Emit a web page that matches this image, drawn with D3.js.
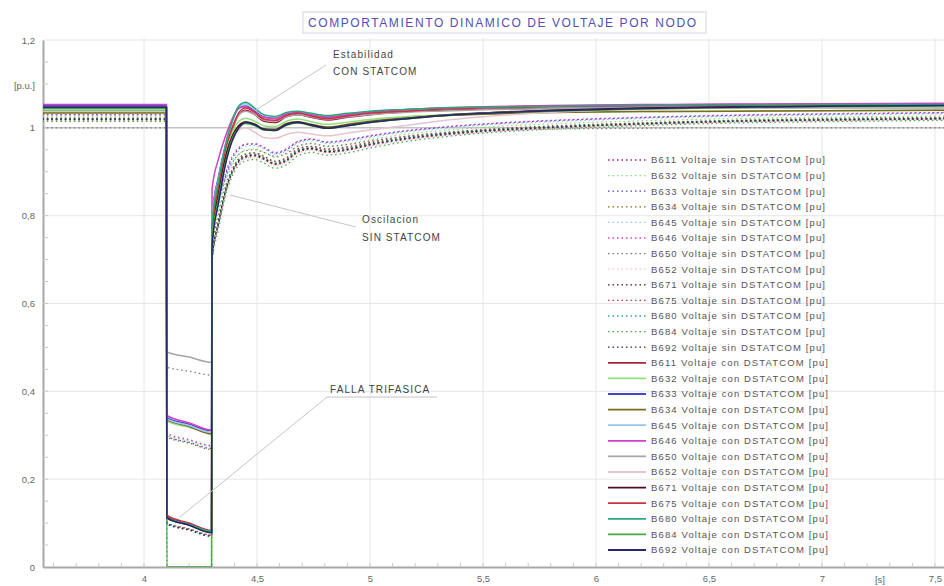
<!DOCTYPE html>
<html><head><meta charset="utf-8">
<script src="https://cdn.jsdelivr.net/npm/d3@7"></script>
<style>
html,body{margin:0;padding:0;background:#fff;}
svg{display:block;font-family:"Liberation Sans",Arial,sans-serif;}
</style></head>
<body>
<svg id="chart" width="944" height="586"></svg>
<script>
// ---------- DATA ----------
const titleText = "COMPORTAMIENTO DINAMICO  DE VOLTAJE POR NODO";
const times = [3.55, 4.099, 4.101, 4.2, 4.299, 4.301, 4.33, 4.36, 4.39, 4.42, 4.45, 4.49, 4.53, 4.58, 4.63, 4.68, 4.74, 4.81, 4.9, 5.0, 5.15, 5.3, 5.5, 5.8, 6.2, 6.6, 7.0, 7.54];
const xTicks = [4, 4.5, 5, 5.5, 6, 6.5, 7, 7.5];
const yTicks = [0, 0.2, 0.4, 0.6, 0.8, 1, 1.2];
const buses = ["B611","B632","B633","B634","B645","B646","B650","B652","B671","B675","B680","B684","B692"];
const busColors = ["#a8243e","#8ee07a","#4646c8","#7c6a1e","#92c8ee","#d23fc8","#a6a6a6","#e6c4d0","#4e0f22","#cc3244","#2fa67a","#45a845","#26286a"];

// Voltaje sin DSTATCOM [pu]
const sin611 = [1.02, 1.02, 0.1, 0.086, 0.072, 0.71, 0.79, 0.86, 0.905, 0.93, 0.94, 0.943, 0.935, 0.924, 0.932, 0.952, 0.958, 0.952, 0.957, 0.967, 0.98, 0.988, 0.996, 1.004, 1.011, 1.016, 1.019, 1.022];
const sin632 = [1.025, 1.025, 0.3, 0.287, 0.274, 0.73, 0.81, 0.875, 0.915, 0.94, 0.95, 0.952, 0.945, 0.933, 0.94, 0.958, 0.965, 0.958, 0.963, 0.973, 0.985, 0.993, 1.001, 1.009, 1.016, 1.021, 1.024, 1.027];
const sin633 = [1.03, 1.03, 0.298, 0.284, 0.27, 0.75, 0.83, 0.89, 0.93, 0.952, 0.962, 0.963, 0.955, 0.942, 0.95, 0.968, 0.974, 0.967, 0.972, 0.981, 0.992, 1.0, 1.008, 1.016, 1.023, 1.028, 1.031, 1.034];
const sin634 = [1.022, 1.022, 0.296, 0.282, 0.268, 0.72, 0.8, 0.865, 0.905, 0.93, 0.94, 0.943, 0.935, 0.923, 0.93, 0.95, 0.957, 0.95, 0.955, 0.965, 0.978, 0.986, 0.995, 1.003, 1.011, 1.017, 1.021, 1.024];
const sin645 = [1.028, 1.028, 0.302, 0.288, 0.276, 0.74, 0.82, 0.885, 0.925, 0.948, 0.958, 0.96, 0.952, 0.94, 0.947, 0.965, 0.971, 0.964, 0.969, 0.978, 0.99, 0.998, 1.006, 1.014, 1.021, 1.026, 1.029, 1.032];
const sin646 = [1.03, 1.03, 0.305, 0.29, 0.277, 0.76, 0.835, 0.895, 0.935, 0.955, 0.963, 0.964, 0.956, 0.944, 0.952, 0.969, 0.975, 0.968, 0.973, 0.982, 0.993, 1.001, 1.009, 1.017, 1.024, 1.029, 1.032, 1.035];
const sin650 = [1.0, 1.0, 0.455, 0.446, 0.437, 0.76, 0.83, 0.885, 0.92, 0.94, 0.948, 0.95, 0.944, 0.935, 0.942, 0.958, 0.964, 0.958, 0.962, 0.97, 0.98, 0.987, 0.993, 0.997, 0.999, 1.0, 1.0, 1.0];
const sin652 = [1.018, 1.018, 0.097, 0.084, 0.07, 0.7, 0.78, 0.85, 0.895, 0.92, 0.93, 0.933, 0.926, 0.915, 0.922, 0.942, 0.949, 0.943, 0.948, 0.958, 0.972, 0.981, 0.99, 0.999, 1.007, 1.013, 1.016, 1.019];
const sin671 = [1.02, 1.02, 0.099, 0.085, 0.071, 0.7, 0.785, 0.855, 0.9, 0.925, 0.935, 0.938, 0.93, 0.918, 0.926, 0.946, 0.953, 0.946, 0.951, 0.962, 0.975, 0.984, 0.993, 1.001, 1.009, 1.015, 1.018, 1.021];
const sin675 = [1.018, 1.018, 0.101, 0.087, 0.073, 0.7, 0.78, 0.852, 0.897, 0.922, 0.932, 0.935, 0.928, 0.916, 0.924, 0.944, 0.951, 0.944, 0.949, 0.96, 0.973, 0.982, 0.991, 1.0, 1.008, 1.014, 1.017, 1.02];
const sin680 = [1.02, 1.02, 0.1, 0.086, 0.072, 0.71, 0.79, 0.858, 0.902, 0.927, 0.937, 0.94, 0.932, 0.92, 0.928, 0.948, 0.955, 0.948, 0.953, 0.963, 0.976, 0.985, 0.994, 1.002, 1.01, 1.016, 1.019, 1.022];
const sin684 = [1.015, 1.015, 0.0, 0.0, 0.0, 0.69, 0.77, 0.845, 0.89, 0.915, 0.925, 0.928, 0.92, 0.908, 0.916, 0.936, 0.944, 0.938, 0.943, 0.954, 0.968, 0.978, 0.988, 0.997, 1.005, 1.011, 1.014, 1.017];
const sin692 = [1.02, 1.02, 0.098, 0.084, 0.07, 0.7, 0.785, 0.855, 0.9, 0.925, 0.935, 0.938, 0.93, 0.918, 0.926, 0.946, 0.953, 0.946, 0.951, 0.962, 0.975, 0.984, 0.993, 1.001, 1.009, 1.015, 1.018, 1.021];

// Voltaje con DSTATCOM [pu]
const con611 = [1.045, 1.045, 0.115, 0.098, 0.082, 0.76, 0.86, 0.94, 0.995, 1.03, 1.04, 1.03, 1.015, 1.012, 1.025, 1.03, 1.024, 1.018, 1.024, 1.03, 1.036, 1.04, 1.043, 1.046, 1.048, 1.05, 1.051, 1.052];
const con632 = [1.036, 1.036, 0.332, 0.318, 0.305, 0.77, 0.87, 0.945, 0.99, 1.015, 1.022, 1.015, 1.005, 1.003, 1.015, 1.02, 1.014, 1.008, 1.013, 1.019, 1.025, 1.029, 1.032, 1.035, 1.037, 1.038, 1.039, 1.04];
const con633 = [1.051, 1.051, 0.34, 0.325, 0.31, 0.8, 0.89, 0.96, 1.015, 1.045, 1.05, 1.038, 1.025, 1.022, 1.032, 1.036, 1.03, 1.025, 1.03, 1.036, 1.041, 1.044, 1.047, 1.05, 1.052, 1.053, 1.054, 1.055];
const con634 = [1.034, 1.034, 0.336, 0.32, 0.303, 0.76, 0.86, 0.935, 0.98, 1.005, 1.013, 1.008, 0.998, 0.997, 1.01, 1.014, 1.008, 1.002, 1.008, 1.015, 1.022, 1.027, 1.031, 1.035, 1.037, 1.038, 1.039, 1.04];
const con645 = [1.048, 1.048, 0.338, 0.322, 0.307, 0.79, 0.885, 0.96, 1.015, 1.048, 1.055, 1.042, 1.028, 1.024, 1.033, 1.037, 1.032, 1.027, 1.032, 1.037, 1.041, 1.043, 1.045, 1.047, 1.048, 1.049, 1.05, 1.05];
const con646 = [1.053, 1.053, 0.345, 0.328, 0.312, 0.86, 0.93, 0.98, 1.02, 1.045, 1.048, 1.036, 1.024, 1.021, 1.031, 1.035, 1.029, 1.024, 1.03, 1.036, 1.041, 1.045, 1.048, 1.051, 1.053, 1.054, 1.055, 1.056];
const con650 = [1.04, 1.04, 0.49, 0.478, 0.466, 0.8, 0.88, 0.95, 1.0, 1.03, 1.038, 1.03, 1.018, 1.015, 1.025, 1.03, 1.025, 1.02, 1.025, 1.03, 1.035, 1.038, 1.041, 1.043, 1.044, 1.045, 1.045, 1.045];
const con652 = [1.046, 1.046, 0.11, 0.095, 0.08, 0.74, 0.84, 0.92, 0.97, 0.995, 1.0, 0.99, 0.978, 0.976, 0.985, 0.99, 0.986, 0.982, 0.988, 0.995, 1.005, 1.015, 1.025, 1.035, 1.042, 1.046, 1.048, 1.05];
const con671 = [1.047, 1.047, 0.112, 0.096, 0.079, 0.75, 0.85, 0.93, 0.98, 1.005, 1.013, 1.008, 0.997, 0.995, 1.008, 1.013, 1.007, 1.0, 1.006, 1.013, 1.021, 1.028, 1.034, 1.04, 1.045, 1.048, 1.05, 1.052];
const con675 = [1.046, 1.046, 0.118, 0.1, 0.083, 0.77, 0.87, 0.95, 1.0, 1.035, 1.045, 1.035, 1.02, 1.017, 1.028, 1.033, 1.027, 1.021, 1.027, 1.033, 1.038, 1.042, 1.045, 1.048, 1.05, 1.051, 1.052, 1.052];
const con680 = [1.047, 1.047, 0.113, 0.097, 0.081, 0.78, 0.88, 0.96, 1.015, 1.05, 1.058, 1.045, 1.03, 1.026, 1.035, 1.038, 1.033, 1.028, 1.033, 1.038, 1.042, 1.045, 1.047, 1.049, 1.051, 1.052, 1.053, 1.053];
const con684 = [1.044, 1.044, 0.0, 0.0, 0.0, 0.74, 0.84, 0.92, 0.975, 1.0, 1.01, 1.005, 0.995, 0.994, 1.006, 1.011, 1.005, 0.999, 1.005, 1.012, 1.02, 1.027, 1.033, 1.038, 1.043, 1.046, 1.048, 1.05];
const con692 = [1.047, 1.047, 0.112, 0.095, 0.078, 0.73, 0.83, 0.915, 0.97, 1.0, 1.012, 1.007, 0.996, 0.994, 1.007, 1.012, 1.006, 0.999, 1.005, 1.012, 1.02, 1.027, 1.033, 1.039, 1.044, 1.047, 1.049, 1.051];

const sinValues = [sin611, sin632, sin633, sin634, sin645, sin646, sin650, sin652, sin671, sin675, sin680, sin684, sin692];
const conValues = [con611, con632, con633, con634, con645, con646, con650, con652, con671, con675, con680, con684, con692];

// ---------- CHART ----------
(function () {
const svg = d3.select("#chart");
const L = 43, R = 944, T = 38, B = 567;
const x = d3.scaleLinear().domain([3.553, 7.54]).range([L, R]);
const y = d3.scaleLinear().domain([0, 1.2]).range([B, 40]);
const fmt = d => String(d).replace(".", ",");

svg.append("defs").append("clipPath").attr("id", "clip")
  .append("rect").attr("x", L).attr("y", T - 6).attr("width", R - L).attr("height", B - T + 6);

// grid
const grid = svg.append("g");
grid.selectAll(".gx").data(xTicks).join("line")
  .attr("x1", d => x(d)).attr("x2", d => x(d)).attr("y1", T).attr("y2", B)
  .attr("stroke", "#e6e6e6").attr("stroke-width", 1);
grid.selectAll(".gy").data(yTicks.filter(d => d > 0)).join("line")
  .attr("x1", L).attr("x2", R).attr("y1", d => y(d)).attr("y2", d => y(d))
  .attr("stroke", d => d === 1 ? "#a4a4a4" : "#e6e6e6").attr("stroke-width", 1);

// axes
const xAxis = d3.axisBottom(x).tickValues(xTicks).tickSize(0).tickPadding(8).tickFormat(fmt);
const gx = svg.append("g").attr("transform", `translate(0,${B})`).call(xAxis);
gx.select(".domain").attr("stroke", "#a8a8a8").attr("stroke-width", 2);
gx.selectAll("text").attr("fill", "#666").attr("font-size", 9.5);
const yAxis = d3.axisLeft(y).tickValues(yTicks).tickSize(0).tickPadding(8).tickFormat(fmt);
const gy = svg.append("g").attr("transform", `translate(${L},0)`).call(yAxis);
gy.select(".domain").attr("stroke", "#a8a8a8").attr("stroke-width", 2);
gy.selectAll("text").attr("fill", "#666").attr("font-size", 9.5);

// minor ticks
const minorX = d3.range(36, 76).map(d => d / 10);
svg.append("g").selectAll("line").data(minorX).join("line")
  .attr("x1", d => x(d)).attr("x2", d => x(d)).attr("y1", B - 4).attr("y2", B)
  .attr("stroke", "#c8c8c8");
const minorY = d3.range(1, 24).map(d => d * 0.05);
svg.append("g").selectAll("line").data(minorY).join("line")
  .attr("x1", L).attr("x2", L + 5).attr("y1", d => y(d)).attr("y2", d => y(d))
  .attr("stroke", "#c8c8c8");

svg.append("text").attr("x", 35).attr("y", 89).attr("text-anchor", "end")
  .attr("font-size", 9.5).attr("fill", "#666").text("[p.u.]");
svg.append("text").attr("x", 880).attr("y", y(0) + 16).attr("text-anchor", "middle")
  .attr("font-size", 9.5).attr("fill", "#666").text("[s]");

// series
const line = d3.line().x(d => x(d[0])).y(d => y(d[1])).curve(d3.curveMonotoneX);
const plot = svg.append("g").attr("clip-path", "url(#clip)");
sinValues.forEach((vals, i) => {
  plot.append("path").datum(times.map((t, k) => [t, vals[k]]))
    .attr("d", line).attr("fill", "none")
    .attr("stroke", i === 6 ? "#7a7a7a" : busColors[i]).attr("stroke-width", 1.3)
    .attr("stroke-dasharray", "1.5,3");
});
conValues.forEach((vals, i) => {
  plot.append("path").datum(times.map((t, k) => [t, vals[k]]))
    .attr("d", line).attr("fill", "none")
    .attr("stroke", busColors[i]).attr("stroke-width", 1.5);
});

// annotations
const ann = svg.append("g").attr("font-size", 10).attr("fill", "#444").attr("letter-spacing", 1.1);
ann.append("line").attr("x1", 256).attr("y1", 110).attr("x2", 326).attr("y2", 65).attr("stroke", "#c4c4c4");
ann.append("text").attr("x", 333).attr("y", 58).text("Estabilidad");
ann.append("text").attr("x", 333).attr("y", 75).text("CON STATCOM");
ann.append("line").attr("x1", 230).attr("y1", 195).attr("x2", 356).attr("y2", 227).attr("stroke", "#c4c4c4");
ann.append("text").attr("x", 362).attr("y", 223).text("Oscilacion");
ann.append("text").attr("x", 362).attr("y", 241).text("SIN STATCOM");
ann.append("line").attr("x1", 180).attr("y1", 517).attr("x2", 327).attr("y2", 397).attr("stroke", "#c4c4c4");
ann.append("line").attr("x1", 327).attr("y1", 397).attr("x2", 437).attr("y2", 397).attr("stroke", "#c4c4c4");
ann.append("text").attr("x", 330).attr("y", 393).text("FALLA TRIFASICA");

// title
svg.append("rect").attr("x", 303).attr("y", 12).attr("width", 403).attr("height", 21)
  .attr("fill", "#fff").attr("stroke", "#d4d4e8");
svg.append("text").attr("x", 308).attr("y", 27).attr("font-size", 12).attr("fill", "#5050b4")
  .attr("textLength", 388).attr("lengthAdjust", "spacing").text(titleText);

// legend
const legendItems = [];
buses.forEach((b, i) => legendItems.push({label: b + " Voltaje sin DSTATCOM [pu]", color: i === 6 ? "#7a7a7a" : busColors[i], dash: true}));
buses.forEach((b, i) => legendItems.push({label: b + " Voltaje con DSTATCOM [pu]", color: busColors[i], dash: false}));
const lg = svg.append("g");
const rowH = 15.6;
legendItems.forEach((it, i) => {
  const yy = 160 + i * rowH;
  lg.append("line").attr("x1", 608).attr("x2", 646).attr("y1", yy).attr("y2", yy)
    .attr("stroke", it.color).attr("stroke-width", it.dash ? 1.3 : 1.8)
    .attr("stroke-dasharray", it.dash ? "1.5,3" : null);
  lg.append("text").attr("x", 651).attr("y", yy).attr("dy", "0.35em")
    .attr("font-size", 9.5).attr("fill", "#555")
    .attr("textLength", it.dash ? 174 : 177).attr("lengthAdjust", "spacing").text(it.label);
});
})();
</script>
</body></html>
